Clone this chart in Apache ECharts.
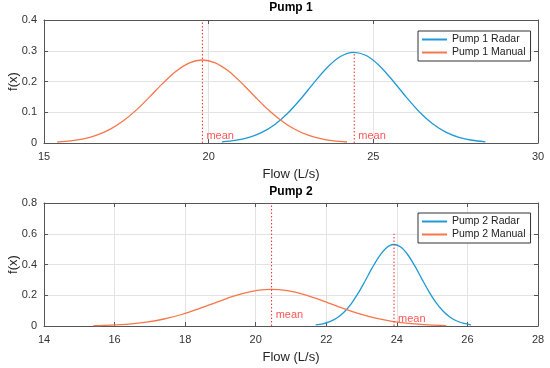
<!DOCTYPE html>
<html><head><meta charset="utf-8">
<script src="https://cdn.jsdelivr.net/npm/echarts/dist/echarts.min.js"></script>
<style>html,body{margin:0;padding:0;background:#fff}#c{width:550px;height:368px}</style>
</head><body><div id="c"></div>
<script>
// ---- Pump 1 ----
const p1RadarX = [20.4,20.8,21.2,21.6,22.0,22.4,22.8,23.2,23.6,24.0,24.4,24.8,25.2,25.6,26.0,26.4,26.8,27.2,27.6,28.0,28.4];
const p1RadarY = [0.0036,0.0082,0.0173,0.0335,0.0594,0.0966,0.1439,0.1963,0.2455,0.2811,0.295,0.2836,0.2498,0.2016,0.149,0.101,0.0627,0.0356,0.0186,0.0089,0.0039];
const p1ManualX = [15.4,15.8,16.2,16.6,17.0,17.4,17.8,18.2,18.6,19.0,19.4,19.8,20.2,20.6,21.0,21.4,21.8,22.2,22.6,23.0,23.4,23.8,24.2];
const p1ManualY = [0.0031,0.0068,0.0136,0.0254,0.0442,0.0713,0.1069,0.1491,0.193,0.2323,0.2598,0.27,0.2607,0.234,0.1952,0.1512,0.1089,0.0729,0.0454,0.0262,0.0141,0.007,0.0033];
const p1MeanX = [24.42, 19.81];     // radar, manual
const p1MeanTop = [0.295, 0.4];
const p1MeanLabelY = [0.022, 0.022];
const p1XTicks = {min:15, max:30, interval:5};
const p1YTicks = {min:0, max:0.4, interval:0.1};

// ---- Pump 2 ----
const p2RadarX = [21.7,21.9,22.1,22.3,22.5,22.7,22.9,23.1,23.3,23.5,23.7,23.9,24.1,24.3,24.5,24.7,24.9,25.1,25.3,25.5,25.7,25.9,26.1];
const p2RadarY = [0.0069,0.0145,0.0286,0.0524,0.0896,0.1427,0.2117,0.2929,0.3776,0.4536,0.5079,0.53,0.515,0.4667,0.394,0.31,0.2272,0.1552,0.0988,0.0587,0.0324,0.0167,0.008];
const p2ManualX = [15.4,15.9,16.4,16.9,17.4,17.9,18.4,18.9,19.4,19.9,20.4,20.9,21.4,21.9,22.4,22.9,23.4,23.9,24.4,24.9,25.4];
const p2ManualY = [0.0025,0.006,0.0128,0.0253,0.0455,0.0748,0.1126,0.1552,0.1956,0.2255,0.238,0.2296,0.2027,0.1637,0.121,0.0818,0.0506,0.0286,0.0148,0.007,0.003];
const p2MeanX = [23.92, 20.45];
const p2MeanTop = [0.6, 0.8];
const p2MeanLabelY = [0.047, 0.073];
const p2XTicks = {min:14, max:28, interval:2};
const p2YTicks = {min:0, max:0.8, interval:0.2};

const BLUE = '#1f9ad6', ORANGE = '#f7764a', RED = '#ff2a2a', FRAME = '#555';
const FONT = 'Liberation Sans, Arial, sans-serif';

function zip(xs, ys){ return xs.map((x,i)=>[x, ys[i]]); }

function xAxis(g, t, main){
  return {
    type:'value', gridIndex:g, min:t.min, max:t.max, interval:t.interval,
    position: main ? 'bottom' : 'top',
    name: main ? 'Flow (L/s)' : '', nameLocation:'middle', nameGap:25, nameMoveOverlap:false,
    nameTextStyle:{fontSize:13, color:'#262626', fontFamily:FONT},
    axisLine:{show:true, onZero:false, lineStyle:{color:FRAME, width:1}},
    axisTick:{show:true, inside:true, length:4, lineStyle:{color:FRAME}},
    axisLabel:{show:main, margin:8, fontSize:11, color:'#333', fontFamily:FONT},
    splitLine:{show:main, lineStyle:{color:'#e3e3e3', width:1}}
  };
}
function yAxis(g, t, main){
  return {
    type:'value', gridIndex:g, min:t.min, max:t.max, interval:t.interval,
    position: main ? 'left' : 'right',
    name: main ? 'f(x)' : '', nameLocation:'middle', nameGap:24, nameRotate:90, nameMoveOverlap:false,
    nameTextStyle:{fontSize:13, color:'#262626', fontFamily:FONT},
    axisLine:{show:true, onZero:false, lineStyle:{color:FRAME, width:1}},
    axisTick:{show:true, inside:true, length:4, lineStyle:{color:FRAME}},
    axisLabel:{show:main, margin:7, fontSize:11, color:'#333', fontFamily:FONT,
      formatter:v=>String(Math.round(v*10)/10)},
    splitLine:{show:main, lineStyle:{color:'#e3e3e3', width:1}}
  };
}
function curve(name, xi, yi, xs, ys, color){
  return {name, type:'line', xAxisIndex:xi, yAxisIndex:yi, data:zip(xs,ys),
    smooth:0.3, showSymbol:false, symbol:'none', lineStyle:{color, width:1.3}, itemStyle:{color}, z:3};
}
function meanLine(xi, yi, x, top){
  return {type:'line', xAxisIndex:xi, yAxisIndex:yi, data:[[x,0],[x,top]], showSymbol:false, symbol:'none',
    lineStyle:{color:RED, width:1, type:[1.5,2]}, z:4, silent:true};
}
function meanLabels(xi, yi, xs, ys){
  return {type:'scatter', xAxisIndex:xi, yAxisIndex:yi, data:zip(xs,ys), symbolSize:0.1,
    itemStyle:{color:'transparent'}, silent:true, z:5,
    label:{show:true, position:'right', distance:4, formatter:'mean', color:RED, fontSize:11, fontFamily:FONT}};
}
function legend(top, names){
  return {data:names.map(n=>({name:n})), orient:'vertical', left:418, top:top, itemWidth:25, itemHeight:2,
    icon:'rect', itemGap:2, padding:[3,5,3,4], borderColor:'#333', borderWidth:1, backgroundColor:'#fff',
    textStyle:{fontSize:10.5, color:'#222', fontFamily:FONT}, selectedMode:false};
}

const chart = echarts.init(document.getElementById('c'), null, {renderer:'canvas'});
chart.setOption({
  animation:false,
  backgroundColor:'#fff',
  title:[
    {text:'Pump 1', left:291, top:2, textAlign:'center', padding:0, textStyle:{fontSize:12, fontWeight:'bold', color:'#000', fontFamily:FONT}},
    {text:'Pump 2', left:291, top:186, textAlign:'center', padding:0, textStyle:{fontSize:12, fontWeight:'bold', color:'#000', fontFamily:FONT}}
  ],
  grid:[
    {left:44, right:12, top:20, height:123, containLabel:false, outerBoundsMode:'none'},
    {left:44, right:12, top:203, height:123, containLabel:false, outerBoundsMode:'none'}
  ],
  xAxis:[xAxis(0,p1XTicks,true), xAxis(0,p1XTicks,false), xAxis(1,p2XTicks,true), xAxis(1,p2XTicks,false)],
  yAxis:[yAxis(0,p1YTicks,true), yAxis(0,p1YTicks,false), yAxis(1,p2YTicks,true), yAxis(1,p2YTicks,false)],
  legend:[legend(31,['Pump 1 Radar','Pump 1 Manual']), legend(213,['Pump 2 Radar','Pump 2 Manual'])],
  series:[
    curve('Pump 1 Radar',0,0,p1RadarX,p1RadarY,BLUE),
    curve('Pump 1 Manual',0,0,p1ManualX,p1ManualY,ORANGE),
    meanLine(0,0,p1MeanX[0],p1MeanTop[0]),
    meanLine(0,0,p1MeanX[1],p1MeanTop[1]),
    meanLabels(0,0,p1MeanX,p1MeanLabelY),
    curve('Pump 2 Radar',2,2,p2RadarX,p2RadarY,BLUE),
    curve('Pump 2 Manual',2,2,p2ManualX,p2ManualY,ORANGE),
    meanLine(2,2,p2MeanX[0],p2MeanTop[0]),
    meanLine(2,2,p2MeanX[1],p2MeanTop[1]),
    meanLabels(2,2,p2MeanX,p2MeanLabelY)
  ]
});
</script></body></html>
